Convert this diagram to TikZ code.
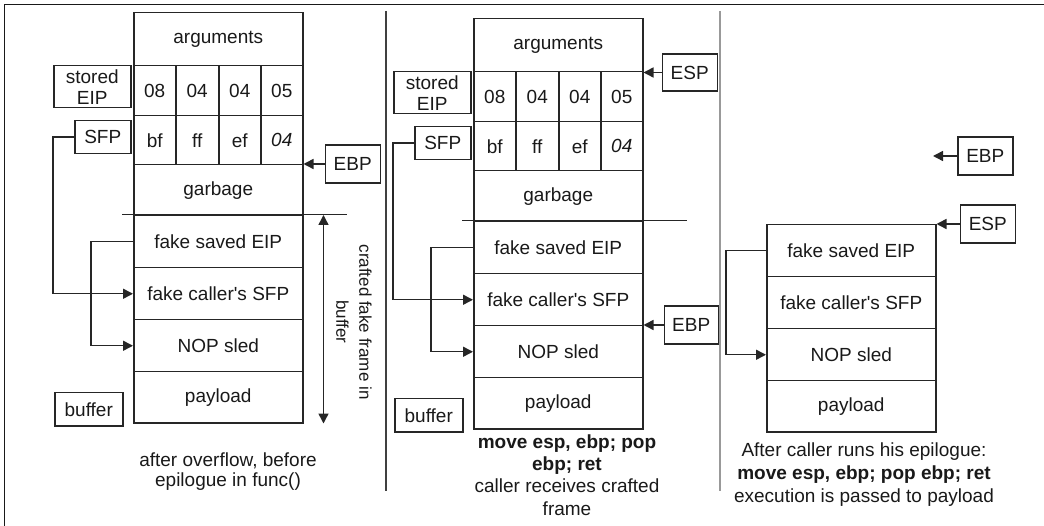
\documentclass[tikz,border=0pt]{standalone}
\usepackage{fontspec}
\setmainfont{Liberation Sans}
\usetikzlibrary{arrows.meta}

% upper part of the stack: arguments, the two rows of bytes, garbage
\newcommand{\upperstack}[1]{%
  \node[cell, minimum height=53pt] (#1args) at (133,12) {arguments};
  \node[byte, minimum width=42pt] (#1a1) at (133,65) {08};
  \node[byte, minimum width=43pt] (#1a2) at (175,65) {04};
  \node[byte, minimum width=42pt] (#1a3) at (218,65) {04};
  \node[byte, minimum width=42pt] (#1a4) at (260,65) {05};
  \node[byte, minimum width=42pt, minimum height=49pt] (#1b1) at (133,115) {bf};
  \node[byte, minimum width=43pt, minimum height=49pt] (#1b2) at (175,115) {ff};
  \node[byte, minimum width=42pt, minimum height=49pt] (#1b3) at (218,115) {ef};
  \node[byte, minimum width=42pt, minimum height=49pt] (#1b4) at (260,115) {\textit{04}};
  \node[cell, minimum height=51pt] (#1garb) at (133,164) {garbage};
}
% lower part of the stack: the crafted frame
\newcommand{\lowerstack}[1]{%
  \node[cell, minimum height=52pt] (#1feip) at (133,215) {fake saved EIP};
  \node[cell, minimum height=52pt] (#1fsfp) at (133,267) {fake caller\textquotesingle s SFP};
  \node[cell, minimum height=52pt] (#1nop) at (133,319) {NOP sled};
  \node[cell, minimum height=51pt] (#1pay) at (133,371) {payload};
}
% labels on the left of the stack and the pointers they carry
\newcommand{\sidelabels}[1]{%
  \node[tag, anchor=north west, minimum width=77pt, minimum height=42pt,
        font=\fontsize{19}{21}\selectfont] (#1seip) at (53,65) {stored\\EIP};
  \node[tag, anchor=north west, minimum width=56pt, minimum height=33pt] (#1sfp) at (74,120) {SFP};
  \node[tag, anchor=north west, minimum width=68pt, minimum height=33pt] (#1buf) at (54,392) {buffer};
  \draw[thinline] ([xshift=-11pt]#1feip.north west) -- ([xshift=43pt]#1feip.north east);
  \draw[arr] (#1sfp.west) -- ++(-21,0) |- (#1fsfp.west);
  \draw[arr] (#1feip.west) -- ++(-42,0) |- (#1nop.west);
}

\begin{document}
\begin{tikzpicture}[x=1pt, y=-1pt,
  every node/.style={text=black!90, font=\fontsize{19}{22}\selectfont},
  ink/.style={draw=black!85, line width=1.5pt},
  cell/.style={ink, anchor=north west, inner sep=0pt, minimum width=169pt},
  byte/.style={ink, anchor=north west, inner sep=0pt, minimum height=50pt},
  tag/.style={ink, inner sep=0pt, align=center},
  thinline/.style={draw=black!85, line width=1pt},
  arr/.style={ink, -{Triangle[length=10pt, width=10pt]}},
  darr/.style={ink, {Triangle[length=10pt, width=10pt]}-{Triangle[length=10pt, width=10pt]}},
  caption/.style={align=center}
]
\useasboundingbox (0,0) rectangle (1044,526);

% outer frame and panel dividers
\draw[draw=black!90, line width=1.6pt] (4.5,526) -- (4.5,4.5) -- (1044,4.5);
\draw[draw=black!75, line width=1.8pt] (386,11) -- (386,491);
\draw[draw=black!40, line width=2.6pt] (720,11) -- (720,491);

% panel 1: after overflow, before the epilogue in func()
\upperstack{L}
\lowerstack{L}
\sidelabels{L}
\node[tag, anchor=west, minimum width=55pt, minimum height=38pt] (LEBP)
  at ([xshift=21pt]Lgarb.north east) {EBP};
\draw[arr] (LEBP.west) -- (Lgarb.north east);
\draw[darr] ([xshift=20pt]Lfeip.north east) -- ([xshift=20pt]Lpay.south east);
\node[rotate=-90, align=center, font=\fontsize{17}{23}\selectfont] (Lspan)
  at (354,322) {crafted fake frame in\\buffer};
\node[caption, font=\fontsize{19}{20}\selectfont] (Lcap) at (228,472)
  {after overflow, before\\epilogue in func()};

% panel 2: func() returns into the caller
\begin{scope}[shift={(340,6)}]
  \upperstack{M}
  \lowerstack{M}
  \sidelabels{M}
\end{scope}
\node[tag, anchor=west, minimum width=55pt, minimum height=37pt] (MESP)
  at ([xshift=18pt]Margs.south east) {ESP};
\draw[arr] (MESP.west) -- (Margs.south east);
\node[tag, anchor=west, minimum width=54pt, minimum height=38pt] (MEBP)
  at ([xshift=20pt]Mnop.north east) {EBP};
\draw[arr] (MEBP.west) -- (Mnop.north east);
\node[caption, font=\fontsize{19}{22.3}\selectfont] (Mcap) at (567,475)
  {\textbf{move esp, ebp; pop}\\\textbf{ebp; ret}\\caller receives crafted\\frame};

% panel 3: the caller's epilogue hands control to the payload
\begin{scope}[shift={(633,9)}]
  \lowerstack{R}
\end{scope}
\draw[arr] (Rfeip.west) -- ++(-40,0) |- (Rnop.west);
\coordinate (REBPtip) at (933,156);
\node[tag, anchor=west, minimum width=55pt, minimum height=38pt] (REBP)
  at (957,156) {EBP};
\draw[arr] (REBP.west) -- (REBPtip);
\node[tag, anchor=west, minimum width=55pt, minimum height=38pt] (RESP)
  at ([xshift=23pt]Rfeip.north east) {ESP};
\draw[arr] (RESP.west) -- (Rfeip.north east);
\node[caption, font=\fontsize{19}{23}\selectfont] (Rcap) at (864,475)
  {After caller runs his epilogue:\\\textbf{move esp, ebp; pop ebp; ret}\\execution is passed to payload};
\end{tikzpicture}
\end{document}
